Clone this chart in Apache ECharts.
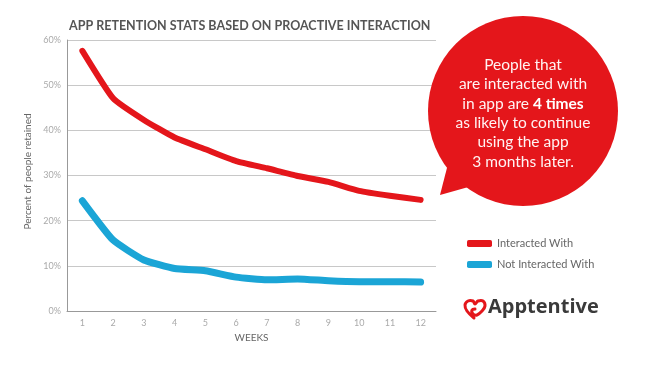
<!DOCTYPE html>
<html><head><meta charset="utf-8">
<script src="https://cdn.jsdelivr.net/npm/echarts@6/dist/echarts.min.js"></script>
<style>html,body{margin:0;padding:0;background:#fff}#c{width:664px;height:368px}</style>
</head><body><div id="c"></div>
<script>
const weeks = ['1','2','3','4','5','6','7','8','9','10','11','12'];
const interacted = [57.6, 47.1, 42.3, 38.4, 35.8, 33.2, 31.6, 29.9, 28.6, 26.6, 25.5, 24.6];
const notInteracted = [24.4, 15.7, 11.3, 9.4, 8.9, 7.5, 6.9, 7.1, 6.7, 6.5, 6.5, 6.4];
const yTicks = [0, 10, 20, 30, 40, 50, 60];

const chart = echarts.init(document.getElementById('c'));
const RED = '#e4161b', BLUE = '#1ba5d6';
chart.setOption({
  animation: false,
  textStyle: {fontFamily: 'Lato'},
  title: {
    text: 'APP RETENTION STATS BASED ON PROACTIVE INTERACTION',
    left: 64, top: 14,
    textStyle: {fontFamily: 'Lato', fontSize: 12.5, fontWeight: 'bold', color: '#555'}
  },
  grid: {left: 67, right: 228, top: 40, bottom: 57},
  legend: {
    orient: 'vertical', left: 462, top: 233, itemGap: 10,
    icon: 'roundRect', itemWidth: 25, itemHeight: 7,
    textStyle: {fontFamily: 'Lato', fontSize: 11, color: '#666'},
    data: ['Interacted With', 'Not Interacted With']
  },
  xAxis: {
    type: 'category', data: weeks, boundaryGap: true,
    name: 'WEEKS', nameLocation: 'middle', nameGap: 21,
    nameTextStyle: {fontFamily: 'Lato', fontSize: 10, color: '#666'},
    axisLine: {lineStyle: {color: '#999'}},
    axisTick: {show: false},
    axisLabel: {color: '#aaa', fontSize: 9, margin: 8}
  },
  yAxis: {
    type: 'value', min: 0, max: 60, interval: 10,
    name: 'Percent of people retained', nameLocation: 'middle', nameGap: 24,
    nameTextStyle: {fontFamily: 'Lato', fontSize: 10, color: '#666', padding: [0, 0, 0, 8]},
    axisLine: {show: true, lineStyle: {color: '#999'}},
    axisTick: {show: false},
    splitLine: {lineStyle: {color: '#c8c8c8'}},
    axisLabel: {color: '#aaa', fontSize: 9, margin: 6, formatter: v => yTicks.includes(v) ? v + '%' : ''}
  },
  series: [
    {name: 'Interacted With', type: 'line', data: interacted, showSymbol: false, smooth: 0.15,
     itemStyle: {color: RED}, lineStyle: {color: RED, width: 6, cap: 'round', join: 'round'}, z: 3},
    {name: 'Not Interacted With', type: 'line', data: notInteracted, showSymbol: false, smooth: 0.15,
     itemStyle: {color: BLUE}, lineStyle: {color: BLUE, width: 7, cap: 'round', join: 'round'}, z: 3}
  ],
  graphic: [
    {type: 'polygon', shape: {points: [[449,160],[440,195],[472,186]]}, style: {fill: RED}, z: 10},
    {type: 'circle', shape: {cx: 523, cy: 111, r: 95}, style: {fill: RED}, z: 10},
    {type: 'text', x: 523, y: 55, z: 11,
     style: {
       text: 'People that\nare interacted with\nin app are {b|4 times}\nas likely to continue\nusing the app\n3 months later.',
       align: 'center', fill: '#fff3f3', fontFamily: 'Lato', fontSize: 15.5, lineHeight: 19.4,
       rich: {b: {fontWeight: 'bold', fontFamily: 'Lato', fontSize: 15.5, fill: '#fff', lineHeight: 19.4}}
     }},
    {type: 'polyline', z: 11,
     shape: {points: [[474,318],[467,311],[465,305],[468,301],[473,301],[475,304],[478,301],[483,301],[485,306],[482,311],[477,315],[473,314],[472,310],[475,309]], smooth: 0.4},
     style: {stroke: RED, lineWidth: 3, fill: null, lineCap: 'round', lineJoin: 'round'}},
    {type: 'text', x: 488, y: 297, z: 11,
     style: {text: 'Apptentive', fontFamily: 'Open Sans', fontWeight: 'bold', fontSize: 20, fill: '#3a3a3a'}}
  ]
});
</script></body></html>
